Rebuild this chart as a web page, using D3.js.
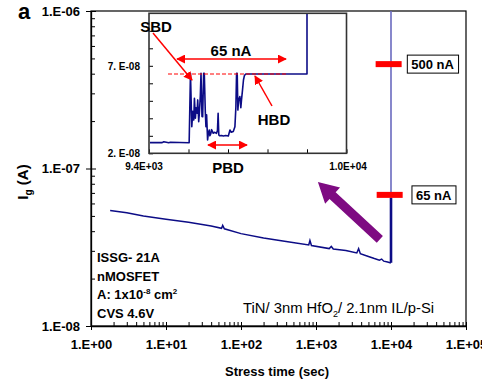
<!DOCTYPE html>
<html lang="en">
<head>
<meta charset="UTF-8">
<title>Ig vs stress time</title>
<script src="https://cdn.jsdelivr.net/npm/d3@7"></script>
<style>
  body { margin: 0; background: #fff; }
  text { font-family: "Liberation Sans", Arial, sans-serif; }
</style>
</head>
<body>
<script>
// main curve: stress time (sec) vs gate current (A)
var mainTime = [1.8, 3, 5, 10, 20, 40, 55, 57, 60, 100, 200, 400, 800, 830, 870, 1500, 1600, 1700,
                2500, 3500, 3700, 3900, 5000, 6000, 7000, 7500, 8000, 9000, 9700, 10000];
var mainCurr = [5.41e-8, 5.24e-8, 4.99e-8, 4.77e-8, 4.55e-8, 4.31e-8, 4.17e-8, 4.35e-8, 4.14e-8,
                3.86e-8, 3.62e-8, 3.44e-8, 3.27e-8, 3.49e-8, 3.24e-8, 3.1e-8, 3.2e-8, 3.08e-8,
                3.02e-8, 2.91e-8, 3.1e-8, 2.88e-8, 2.76e-8, 2.68e-8, 2.62e-8, 2.66e-8, 2.58e-8,
                2.55e-8, 2.52e-8, 2.52e-8];
// jump after hard breakdown
var jumpTime = [10000, 10000];
var jumpCurr = [2.52e-8, 6.5e-8];
var hbdTime = [10000, 10000];
var hbdCurr = [6.5e-8, 1.2e-6];

// inset: zoom on 9.4E+03 .. 1.0E+04 sec, linear current
var insetTime = [9403, 9440, 9445, 9460, 9465, 9522, 9526, 9530, 9533, 9536, 9538, 9541, 9543, 9546,
                 9548, 9551, 9553, 9556, 9558, 9561, 9563, 9566, 9568, 9571, 9573, 9575, 9578, 9580,
                 9583, 9585, 9588, 9590, 9593, 9595, 9600, 9605, 9608, 9610, 9612, 9615, 9620, 9626,
                 9633, 9641, 9646, 9650, 9656, 9661, 9664, 9666, 9668, 9670, 9672, 9676, 9679, 9681,
                 9684, 9687, 9690, 9694, 9700, 9880, 9880];
var insetCurr = [2.61e-8, 2.61e-8, 2.66e-8, 2.6e-8, 2.63e-8, 2.6e-8, 6.57e-8, 3.52e-8, 4.4e-8, 3.9e-8,
                 5.14e-8, 4.0e-8, 4.6e-8, 4.29e-8, 5.05e-8, 3.8e-8, 4.29e-8, 5.3e-8, 6.57e-8, 4.1e-8,
                 4.09e-8, 6.57e-8, 6.57e-8, 4.4e-8, 3.52e-8, 4.2e-8, 2.76e-8, 3.1e-8, 3.33e-8, 3.0e-8,
                 3.14e-8, 3.35e-8, 3.24e-8, 3.15e-8, 3.2e-8, 3.14e-8, 3.3e-8, 4.29e-8, 3.05e-8,
                 3.0e-8, 3.02e-8, 2.99e-8, 3.02e-8, 2.99e-8, 3.33e-8, 3.2e-8, 3.24e-8, 3.52e-8,
                 4.66e-8, 6.57e-8, 6.57e-8, 4.47e-8, 5.0e-8, 5.24e-8, 4.6e-8, 5.05e-8, 5.6e-8,
                 6.19e-8, 6.45e-8, 6.53e-8, 6.53e-8, 6.53e-8, 1.2e-7];

var xTickVals = [1, 10, 100, 1000, 10000, 100000];
var xTickLabels = ["1.E+00", "1.E+01", "1.E+02", "1.E+03", "1.E+04", "1.E+05"];
var yTickVals = [1e-8, 1e-7, 1e-6];
var yTickLabels = ["1.E-08", "1.E-07", "1.E-06"];
var insetYTicks = [2e-8, 3e-8, 4e-8, 5e-8, 6e-8, 7e-8, 8e-8, 9e-8];
var insetYLabels = {"2e-8": "2. E-08", "7e-8": "7. E-08"};
var insetXTicks = [9400, 9520, 9640, 9760, 9880, 10000];
var insetXLabels = ["9.4E+03", "1.0E+04"];

// level markers (time, current, label)
var markTime = [9300, 9600];
var markCurr = [4.6e-7, 6.8e-8];
var markLabels = ["500 nA", "65 nA"];

var W = 482, H = 380;
var navy = "#0c0c86", red = "#ff0000";

var svg = d3.select("body").append("svg")
    .attr("width", W)
    .attr("height", H);

var defs = svg.append("defs");
defs.append("marker").attr("id", "rhead")
    .attr("viewBox", "0 0 10 10").attr("refX", 9).attr("refY", 5)
    .attr("markerWidth", 9).attr("markerHeight", 9).attr("markerUnits", "userSpaceOnUse")
    .attr("orient", "auto-start-reverse")
  .append("path").attr("d", "M0,0L10,5L0,10z").attr("fill", red);

var x = d3.scaleLog().domain([1, 1e5]).range([91, 466]);
var y = d3.scaleLog().domain([1e-8, 1e-6]).range([326, 11]);

// minor ticks
var xMinor = [], yMinor = [];
for (var e = 0; e < 5; e++) for (var m = 2; m < 10; m++) xMinor.push(m * Math.pow(10, e));
for (var e2 = -8; e2 < -6; e2++) for (var m2 = 2; m2 < 10; m2++) yMinor.push(m2 * Math.pow(10, e2));

svg.append("g").attr("transform", "translate(0,326)")
    .call(d3.axisBottom(x).tickValues(xMinor).tickSize(-4).tickFormat(""))
    .call(function(g) { g.select(".domain").remove(); });
svg.append("g").attr("transform", "translate(91,0)")
    .call(d3.axisLeft(y).tickValues(yMinor).tickSize(-4).tickFormat(""))
    .call(function(g) { g.select(".domain").remove(); });

// major axes
var xAxis = svg.append("g").attr("transform", "translate(0,326)")
    .call(d3.axisBottom(x).tickValues(xTickVals).tickSizeInner(4).tickSizeOuter(0)
        .tickFormat(function(d, i) { return xTickLabels[i]; }));
xAxis.selectAll(".tick line").attr("y1", -4);
xAxis.selectAll("text").attr("dy", 0).attr("y", 23)
    .style("font-size", "13px").style("font-weight", "bold").attr("fill", "#000");

var yAxis = svg.append("g").attr("transform", "translate(91,0)")
    .call(d3.axisLeft(y).tickValues(yTickVals).tickSizeInner(5).tickSizeOuter(0)
        .tickFormat(function(d, i) { return yTickLabels[i]; }));
yAxis.selectAll(".tick line").attr("x2", 5).attr("x1", -5);
yAxis.selectAll("text").attr("x", -11)
    .style("font-size", "13px").style("font-weight", "bold").attr("fill", "#000");
svg.selectAll(".domain").attr("stroke-width", 1.3);

// frame
svg.append("rect").attr("x", 91).attr("y", 11).attr("width", 375).attr("height", 315)
    .attr("fill", "none").attr("stroke", "#000").attr("stroke-width", 1.2);

var clip = defs.append("clipPath").attr("id", "mainclip");
clip.append("rect").attr("x", 91).attr("y", 11).attr("width", 375).attr("height", 315);

var line = d3.line().x(function(d) { return x(d[0]); }).y(function(d) { return y(d[1]); });
var plot = svg.append("g").attr("clip-path", "url(#mainclip)");

plot.append("path").datum(d3.zip(hbdTime, hbdCurr))
    .attr("d", line).attr("fill", "none").attr("stroke", "#6a6abf").attr("stroke-width", 1.6);
plot.append("path").datum(d3.zip(mainTime, mainCurr))
    .attr("d", line).attr("fill", "none").attr("stroke", navy).attr("stroke-width", 1.5);
plot.append("path").datum(d3.zip(jumpTime, jumpCurr))
    .attr("d", line).attr("fill", "none").attr("stroke", navy).attr("stroke-width", 2.6);

// level markers
markTime.forEach(function(t, i) {
  var cx = x(t), cy = y(markCurr[i]);
  var g = svg.append("g");
  g.append("rect").attr("x", cx - 13).attr("y", cy - 3).attr("width", 26).attr("height", 6)
      .attr("fill", red);
  var box = g.append("rect");
  var lb = g.append("text").attr("x", cx + 44).attr("y", cy + 5)
      .attr("text-anchor", "middle").style("font-size", "13px").style("font-weight", "bold")
      .text(markLabels[i]);
  var bb = lb.node().getBBox();
  box.attr("x", bb.x - 4).attr("y", cy - 9).attr("width", bb.width + 8).attr("height", 18)
      .attr("fill", "#fff").attr("stroke", "#000").attr("stroke-width", 1);
});

// purple arrow
(function() {
  var x0 = x(7100), y0 = y(3.55e-8), x1 = x(1060), y1 = y(8.2e-8);
  var ang = Math.atan2(y1 - y0, x1 - x0), len = Math.hypot(x1 - x0, y1 - y0);
  var hl = 20, hw = 11, sw = 4.5;
  var pts = [[0, -sw], [len - hl, -sw], [len - hl, -hw], [len, 0], [len - hl, hw], [len - hl, sw], [0, sw]];
  svg.append("polygon")
      .attr("points", pts.map(function(p) {
        return [x0 + p[0] * Math.cos(ang) - p[1] * Math.sin(ang),
                y0 + p[0] * Math.sin(ang) + p[1] * Math.cos(ang)].join(",");
      }).join(" "))
      .attr("fill", "#7e0b82");
})();

// text blocks
var info = ["ISSG- 21A", "nMOSFET", null, "CVS 4.6V"];
info.forEach(function(s, i) {
  if (!s) return;
  svg.append("text").attr("x", 97).attr("y", 262 + i * 18.6)
      .style("font-size", "13px").style("font-weight", "bold").text(s);
});
var area = svg.append("text").attr("x", 97).attr("y", 262 + 2 * 18.6)
    .style("font-size", "13px").style("font-weight", "bold");
area.append("tspan").text("A: 1x10");
area.append("tspan").attr("dy", -5).style("font-size", "8px").text("-8");
area.append("tspan").attr("dy", 5).text(" cm");
area.append("tspan").attr("dy", -5).style("font-size", "8px").text("2");

var stack = svg.append("text").attr("x", 243).attr("y", 313).style("font-size", "14.8px");
stack.append("tspan").text("TiN/ 3nm HfO");
stack.append("tspan").attr("dy", 4).style("font-size", "9px").text("2");
stack.append("tspan").attr("dy", -4).text("/ 2.1nm IL/p-Si");

svg.append("text").attr("x", 277).attr("y", 376).attr("text-anchor", "middle")
    .style("font-size", "13px").style("font-weight", "bold").text("Stress time (sec)");

var yl = svg.append("text").attr("transform", "translate(28,182) rotate(-90)")
    .attr("text-anchor", "middle").style("font-size", "15px").style("font-weight", "bold");
yl.append("tspan").text("I");
yl.append("tspan").attr("dy", 4).style("font-size", "10px").text("g");
yl.append("tspan").attr("dy", -4).text(" (A)");

svg.append("text").attr("x", 18).attr("y", 19)
    .style("font-size", "22px").style("font-weight", "bold").text("a");

// ---------- inset ----------
var xi = d3.scaleLinear().domain([9400, 10000]).range([149, 346.5]);
var yi = d3.scaleLinear().domain([2e-8, 1e-7]).range([153.3, 13.3]);

svg.append("rect").attr("x", 149).attr("y", 13.3).attr("width", 197.5).attr("height", 140)
    .attr("fill", "#fff");
defs.append("clipPath").attr("id", "insetclip")
  .append("rect").attr("x", 149).attr("y", 13.3).attr("width", 197.5).attr("height", 140);

svg.append("g").attr("transform", "translate(149,0)")
    .call(d3.axisLeft(yi).tickValues(insetYTicks).tickSize(-4)
        .tickFormat(function(d) { return insetYLabels[String(+d.toPrecision(2))] || ""; }))
    .call(function(g) {
      g.select(".domain").remove();
      g.selectAll("text").attr("x", -9).style("font-size", "10px").style("font-weight", "bold")
          .attr("fill", "#000");
    });
svg.append("g").attr("transform", "translate(0,153.3)")
    .call(d3.axisBottom(xi).tickValues(insetXTicks).tickSize(-4).tickFormat(""))
    .call(function(g) { g.select(".domain").remove(); });
svg.append("text").attr("x", 144).attr("y", 170).attr("text-anchor", "middle")
    .style("font-size", "10px").style("font-weight", "bold").text(insetXLabels[0]);
svg.append("text").attr("x", 348).attr("y", 170).attr("text-anchor", "middle")
    .style("font-size", "10px").style("font-weight", "bold").text(insetXLabels[1]);

var iline = d3.line().x(function(d) { return xi(d[0]); }).y(function(d) { return yi(d[1]); });
svg.append("g").attr("clip-path", "url(#insetclip)")
  .append("path").datum(d3.zip(insetTime, insetCurr))
    .attr("d", iline).attr("fill", "none").attr("stroke", navy).attr("stroke-width", 1.6)
    .attr("stroke-linejoin", "round");

svg.append("rect").attr("x", 149).attr("y", 13.3).attr("width", 197.5).attr("height", 140)
    .attr("fill", "none").attr("stroke", "#333").attr("stroke-width", 1.6);

// 65 nA reference dashed line
svg.append("line").attr("x1", 168).attr("x2", 287).attr("y1", 74).attr("y2", 74)
    .attr("stroke", red).attr("stroke-width", 1).attr("stroke-dasharray", "4,2");

function arrow(x1, y1, x2, y2, both) {
  var l = svg.append("line").attr("x1", x1).attr("y1", y1).attr("x2", x2).attr("y2", y2)
      .attr("stroke", red).attr("stroke-width", 1.5).attr("marker-end", "url(#rhead)");
  if (both) l.attr("marker-start", "url(#rhead)");
}
arrow(177, 59, 286, 59, true);
arrow(208, 145, 247, 145, true);
arrow(153, 33, 192, 80, false);
arrow(272, 106, 255, 76, false);

function lab(s, cx, cy) {
  svg.append("text").attr("x", cx).attr("y", cy + 5).attr("text-anchor", "middle")
      .style("font-size", "15px").style("font-weight", "bold").text(s);
}
lab("SBD", 156, 27);
lab("65 nA", 231, 51);
lab("HBD", 274, 120);
lab("PBD", 228, 168);
</script>
</body>
</html>
